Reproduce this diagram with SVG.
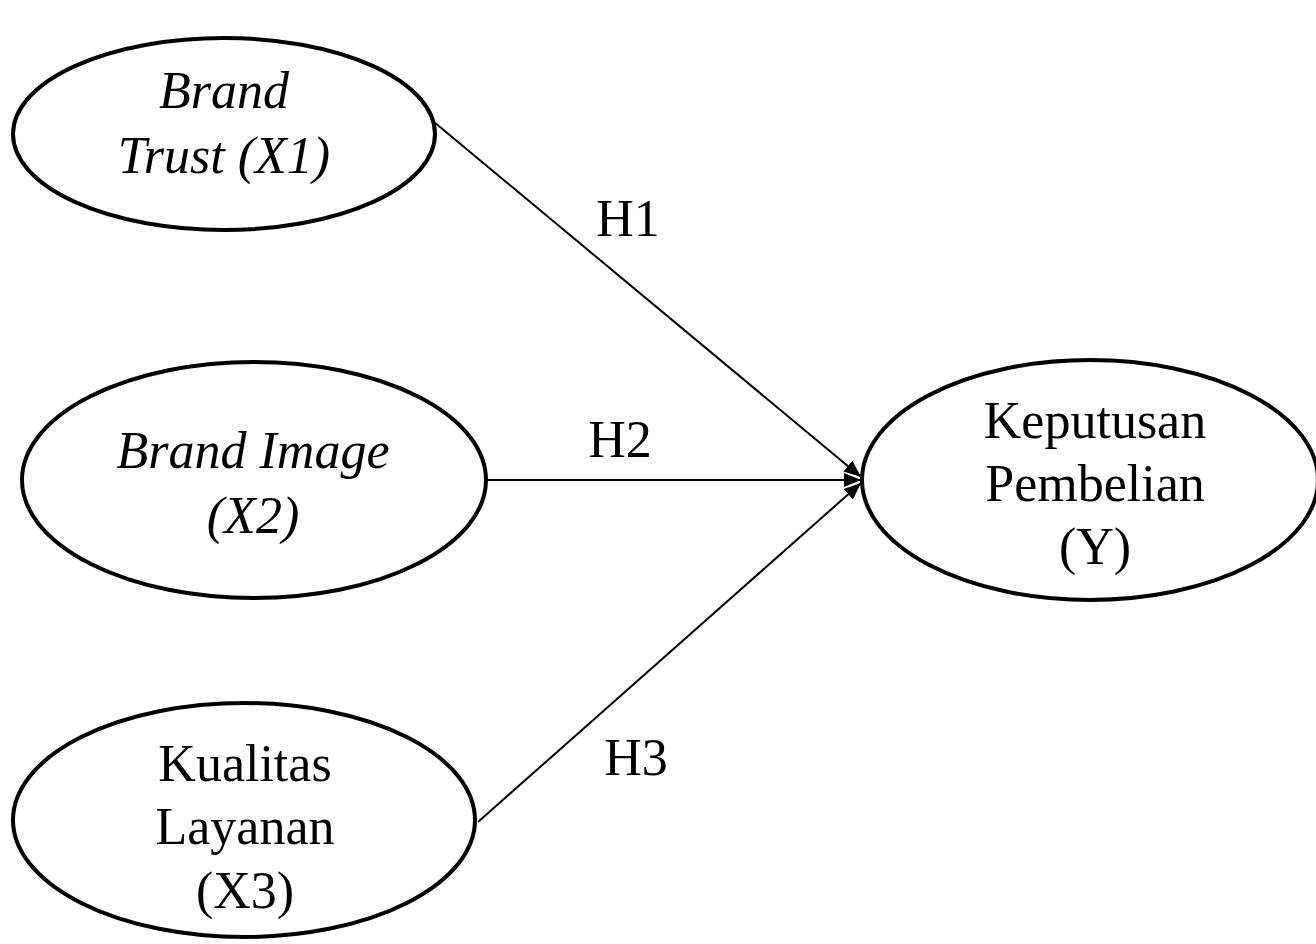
<svg xmlns="http://www.w3.org/2000/svg" width="1316" height="944" viewBox="0 0 1316 944">
<style>
.node ellipse{fill:#fff;stroke:#000;stroke-width:4}
text{font-family:"Liberation Serif","Times New Roman",serif;font-size:52px;fill:#000;text-anchor:middle}
.it{font-style:italic}
.conn line{stroke:#000;stroke-width:2}
</style>
<defs>
<marker id="ah" markerUnits="userSpaceOnUse" markerWidth="20" markerHeight="20" viewBox="0 0 20 20" refX="17" refY="10" orient="auto">
<path d="M0,3 L17,10 L0,17 Z" fill="#000"/>
</marker>
</defs>
<rect width="1316" height="944" fill="#fff"/>
<g id="connectors" class="conn">
<line x1="434" y1="122" x2="861" y2="477" marker-end="url(#ah)"/>
<line x1="487" y1="480" x2="861" y2="480" marker-end="url(#ah)"/>
<line x1="478" y1="822" x2="861" y2="483" marker-end="url(#ah)"/>
<text x="628" y="236">H1</text>
<text x="620" y="457">H2</text>
<text x="636" y="775">H3</text>
</g>
<g id="x1" class="node">
<ellipse cx="224" cy="134" rx="211" ry="96"/>
<text class="it" x="224" y="108">Brand</text>
<text class="it" x="224" y="173">Trust (X1)</text>
</g>
<g id="x2" class="node">
<ellipse cx="254" cy="480" rx="232" ry="118"/>
<text class="it" x="253" y="468">Brand Image</text>
<text class="it" x="253" y="533">(X2)</text>
</g>
<g id="x3" class="node">
<ellipse cx="244" cy="820" rx="231" ry="117"/>
<text x="245" y="781">Kualitas</text>
<text x="245" y="844">Layanan</text>
<text x="245" y="908">(X3)</text>
</g>
<g id="y" class="node">
<ellipse cx="1090" cy="480" rx="228" ry="120"/>
<text x="1095" y="438">Keputusan</text>
<text x="1095" y="501">Pembelian</text>
<text x="1095" y="564">(Y)</text>
</g>
</svg>
